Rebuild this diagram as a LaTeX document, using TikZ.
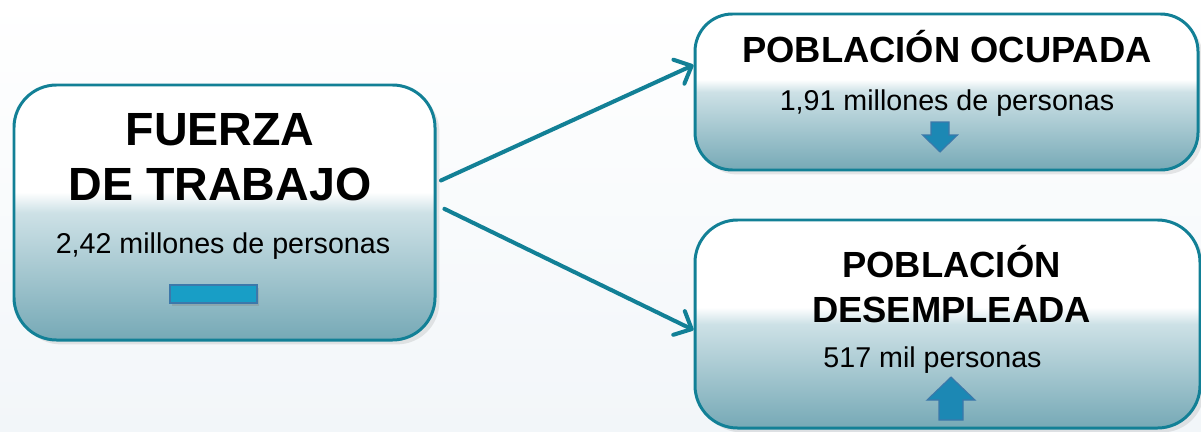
\documentclass[tikz,border=0pt]{standalone}
\usepackage{fontspec}
\setmainfont{Liberation Sans}
\usetikzlibrary{arrows.meta, shadows}
\definecolor{edgeteal}{RGB}{18,128,150}
\definecolor{boxlow}{RGB}{118,169,182}
\definecolor{boxmid}{RGB}{205,225,230}
\definecolor{barblue}{RGB}{24,158,198}
\definecolor{barline}{RGB}{60,120,170}
\definecolor{trendblue}{RGB}{28,136,180}
\definecolor{bgbottom}{RGB}{242,246,249}
\pgfdeclareverticalshading{boxfade}{100bp}{color(0bp)=(boxlow); color(25bp)=(boxlow); color(50bp)=(boxmid); color(54bp)=(white); color(100bp)=(white)}

\begin{document}
\begin{tikzpicture}[
    box/.style={draw=edgeteal, line width=1.7pt, rounded corners=0.85cm, shade, shading=boxfade, inner sep=0pt,
      drop shadow={opacity=0.18, shadow xshift=2.5pt, shadow yshift=-2.5pt}},
    big/.style={font=\fontsize{26.5}{31}\selectfont\bfseries, align=center, anchor=base},
    head/.style={font=\fontsize{20.7}{25.5}\selectfont\bfseries, align=center, anchor=base},
    count/.style={font=\fontsize{16.3}{19}\selectfont, anchor=base},
    trend/.style={fill=trendblue, draw=barline, line width=0.6pt, line join=miter},
    flow/.style={draw=edgeteal, line width=2.3pt, line cap=round, -{Straight Barb[length=8pt, width=15pt, round]}}
  ]
    \shade[top color=white, bottom color=bgbottom] (0,0) rectangle (24.02,8.62);
    \useasboundingbox (0,0) rectangle (24.02,8.62);

    \node[box, minimum width=8.42cm,  minimum height=5.10cm]                         (FT) at ( 4.49, 4.37) {};
    \node[box, minimum width=10.06cm, minimum height=3.12cm, rounded corners=0.75cm] (PO) at (18.93, 6.78) {};
    \node[box, minimum width=10.10cm, minimum height=4.16cm]                         (PD) at (18.95, 2.14) {};

    \node[big]   (FTt) at ( 4.40, 4.62) {FUERZA\\DE TRABAJO};
    \node[count] (FTn) at ( 4.46, 3.56) {2,42 millones de personas};
    \node[draw=barline, fill=barblue, line width=0.6pt, minimum width=1.74cm, minimum height=0.36cm, inner sep=0pt,
      drop shadow={opacity=0.3, shadow xshift=1pt, shadow yshift=-1.5pt}] (FTbar) at (4.27, 2.74) {};

    \node[head]  (POt) at (18.94, 7.38) {POBLACIÓN OCUPADA};
    \node[count] (POn) at (18.94, 6.42) {1,91 millones de personas};
    \coordinate (POtip) at (18.80, 5.58);
    \filldraw[trend] (POtip) -- ++(0.35,0.34) -- ++(-0.17,0) -- ++(0,0.26) -- ++(-0.36,0) -- ++(0,-0.26) -- ++(-0.17,0) -- cycle;

    \node[head]  (PDt) at (19.03, 2.18) {POBLACIÓN\\DESEMPLEADA};
    \node[count] (PDn) at (18.65, 1.28) {517 mil personas};
    \coordinate (PDtip) at (19.02, 1.08);
    \filldraw[trend] (PDtip) -- ++(0.48,-0.46) -- ++(-0.24,0) -- ++(0,-0.40) -- ++(-0.48,0) -- ++(0,0.40) -- ++(-0.24,0) -- cycle;

    \draw[flow, shorten <=2.8pt] ([yshift=0.60cm]FT.east) -- ([yshift=0.54cm]PO.west);
    \draw[flow, shorten <=5pt]   ([yshift=0.15cm]FT.east) -- ([yshift=-0.12cm]PD.west);
\end{tikzpicture}
\end{document}
